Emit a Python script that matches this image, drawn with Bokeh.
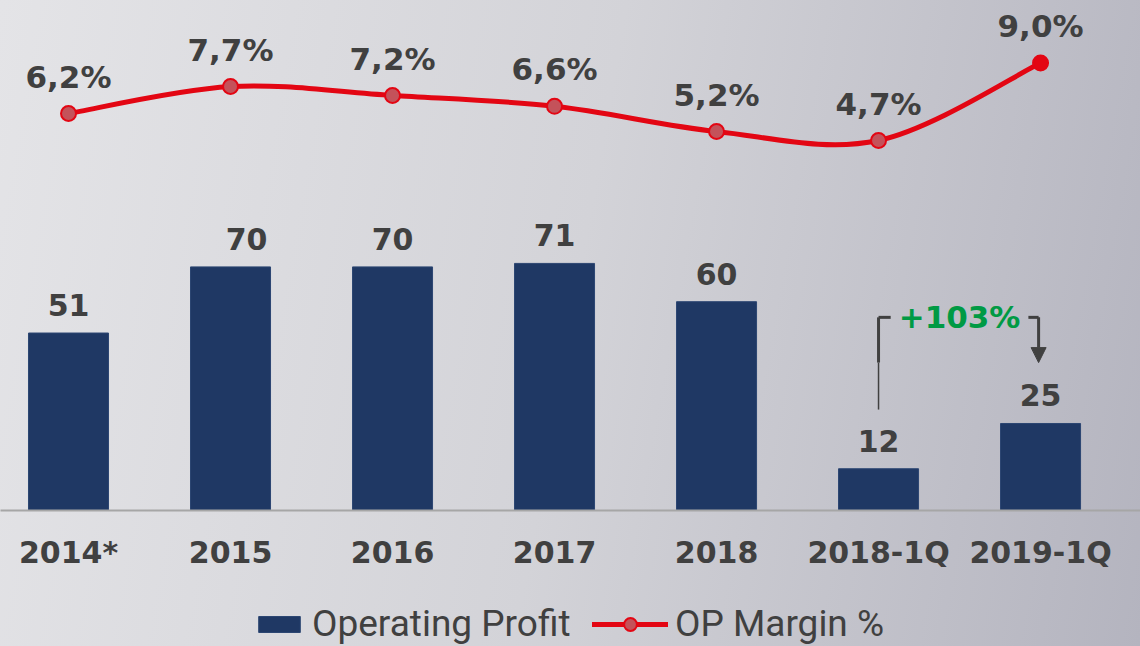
from bokeh.plotting import figure
from bokeh.layouts import column
from bokeh.models import (ColumnDataSource, Range1d, FixedTicker, Legend, LegendItem,
                          Arrow, NormalHead)
from bokeh.core.properties import value
from bokeh.embed import file_html
from bokeh.resources import INLINE

# ---------------- data ----------------
categories = ["2014*", "2015", "2016", "2017", "2018", "2018-1Q", "2019-1Q"]
operating_profit = [51, 70, 70, 71, 60, 12, 25]
op_margin = [6.2, 7.7, 7.2, 6.6, 5.2, 4.7, 9.0]
change_label = "+103%"
series_names = ["Operating Profit", "OP Margin %"]

# ---------------- styles ----------------
TXT = "#404040"
NAVY = "#1f3864"
RED = "#e30613"
MARK = "#c4525a"
GREEN = "#009a44"
FONT = "DejaVu Sans"
LEG_FONT = "Roboto"
bar_label_dx = [0, 16, 0, 0, 0, 0, 0]   # label nudges seen in the reference

xs = list(range(len(categories)))
W, H_MAIN, H_LEG = 1140, 590, 56

p = figure(width=W, height=H_MAIN, output_backend="svg", toolbar_location=None,
           x_range=Range1d(-0.4198, 6.617), y_range=Range1d(0, 146.55),
           y_axis_location=None, min_border_left=0, min_border_right=0,
           min_border_top=0, min_border_bottom=80)
p.extra_y_ranges = {"pct": Range1d(-15.856, 12.478)}
p.background_fill_color = None
p.border_fill_color = None
p.outline_line_color = None
p.xgrid.visible = False
p.ygrid.visible = False

# x axis
ax = p.xaxis[0]
ax.ticker = FixedTicker(ticks=xs)
ax.major_label_overrides = {i: c for i, c in zip(xs, categories)}
ax.axis_line_color = "#a6a6a6"
ax.axis_line_width = 2
ax.major_tick_line_color = None
ax.minor_tick_line_color = None
ax.major_label_standoff = 18
ax.major_label_text_font = FONT
ax.major_label_text_font_style = "bold"
ax.major_label_text_font_size = "30px"
ax.major_label_text_color = TXT

# bars
bar_src = ColumnDataSource(dict(x=xs, top=operating_profit, dx=bar_label_dx,
                                lab=[str(v) for v in operating_profit]))
bar_style = dict(width=0.494, fill_color=NAVY, line_color="#2c4672", line_width=1)
p.vbar(x="x", top="top", source=bar_src, **bar_style)
p.text(x="x", y="top", text="lab", source=bar_src, x_offset="dx", y_offset=-28,
       text_align="center", text_baseline="middle",
       text_font=value(FONT), text_font_style="bold", text_font_size="30px",
       text_color=TXT)

# smooth margin line (Catmull-Rom -> cubic Bezier through the data points)
n = len(op_margin)
pts = list(zip(xs, op_margin))
x0, y0, x1, y1, cx0, cy0, cx1, cy1 = [], [], [], [], [], [], [], []
for i in range(n - 1):
    pm = pts[max(i - 1, 0)]
    pa = pts[i]
    pb = pts[i + 1]
    pn = pts[min(i + 2, n - 1)]
    x0.append(pa[0]); y0.append(pa[1])
    x1.append(pb[0]); y1.append(pb[1])
    cx0.append(pa[0] + (pb[0] - pm[0]) / 6); cy0.append(pa[1] + (pb[1] - pm[1]) / 6)
    cx1.append(pb[0] - (pn[0] - pa[0]) / 6); cy1.append(pb[1] - (pn[1] - pa[1]) / 6)
line_style = dict(line_color=RED, line_width=5, line_cap="round")
p.bezier(x0=x0, y0=y0, x1=x1, y1=y1, cx0=cx0, cy0=cy0, cx1=cx1, cy1=cy1,
         y_range_name="pct", **line_style)

mark_style = dict(size=15, fill_color=MARK, line_color=RED, line_width=2)
p.scatter(x=xs[:-1], y=op_margin[:-1], y_range_name="pct", **mark_style)
p.scatter(x=xs[-1:], y=op_margin[-1:], size=15, fill_color=RED,
          line_color=RED, line_width=2, y_range_name="pct")

pct_src = ColumnDataSource(dict(x=xs, y=op_margin,
                                lab=[f"{v:.1f}".replace(".", ",") + "%" for v in op_margin]))
p.text(x="x", y="y", text="lab", source=pct_src, y_offset=-37, y_range_name="pct",
       text_align="center", text_baseline="middle",
       text_font=value(FONT), text_font_style="bold", text_font_size="31px",
       text_color=TXT)

# growth annotation between the last two bars
a, b = xs[-2], xs[-1]
ann_top = operating_profit[-1] + 30.5
left_bottom = operating_profit[-2] + 17
arrow_end = operating_profit[-1] + 17.5
split = arrow_end
p.segment(x0=[a, a], y0=[ann_top, ann_top], x1=[a + 0.075, a], y1=[ann_top, split],
          line_color=TXT, line_width=3)
p.segment(x0=[a], y0=[split], x1=[a], y1=[left_bottom], line_color=TXT, line_width=1.5)
p.segment(x0=[b - 0.075], y0=[ann_top], x1=[b - 0.012], y1=[ann_top],
          line_color=TXT, line_width=3)
p.add_layout(Arrow(end=NormalHead(size=15, fill_color=TXT, line_color=TXT),
                   x_start=b - 0.012, y_start=ann_top, x_end=b - 0.012, y_end=arrow_end,
                   line_color=TXT, line_width=3))
p.text(x=[(a + b) / 2], y=[ann_top], text=[change_label], y_offset=0,
       text_align="center", text_baseline="middle",
       text_font=value(FONT), text_font_style="bold", text_font_size="31px",
       text_color=GREEN)

# ---------------- legend strip ----------------
lp = figure(width=W, height=H_LEG, output_backend="svg", toolbar_location=None,
            x_range=Range1d(-0.4198, 6.617), y_range=Range1d(0, 1),
            x_axis_location=None, y_axis_location=None,
            min_border_left=0, min_border_right=0, min_border_top=0, min_border_bottom=0)
lp.background_fill_color = None
lp.border_fill_color = None
lp.outline_line_color = None
lp.xgrid.visible = False
lp.ygrid.visible = False
key_bar = lp.vbar(x=xs, top=operating_profit, visible=False, **bar_style)
key_line = lp.line(x=xs, y=op_margin, visible=False, **line_style)
key_mark = lp.scatter(x=xs, y=op_margin, visible=False, **mark_style)

leg_common = dict(orientation="horizontal", label_text_font=LEG_FONT,
                  label_text_font_size="37px", label_text_color=TXT,
                  label_standoff=7, spacing=0, padding=0, margin=0,
                  background_fill_alpha=0, border_line_alpha=0, inactive_fill_alpha=0)
leg1 = Legend(items=[LegendItem(label=series_names[0], renderers=[key_bar])],
              location=(253, 1), glyph_width=52, glyph_height=20, **leg_common)
leg2 = Legend(items=[LegendItem(label=series_names[1], renderers=[key_line, key_mark])],
              location=(592, 1), glyph_width=76, glyph_height=32, **leg_common)
lp.add_layout(leg1, "center")
lp.add_layout(leg2, "center")

layout = column(p, lp, spacing=0)
layout.styles = {"background": "linear-gradient(100deg, #e4e4e7 0%, #d3d3d8 50%, #b4b4bf 100%)"}

open("out.html", "w").write(file_html(layout, INLINE))
